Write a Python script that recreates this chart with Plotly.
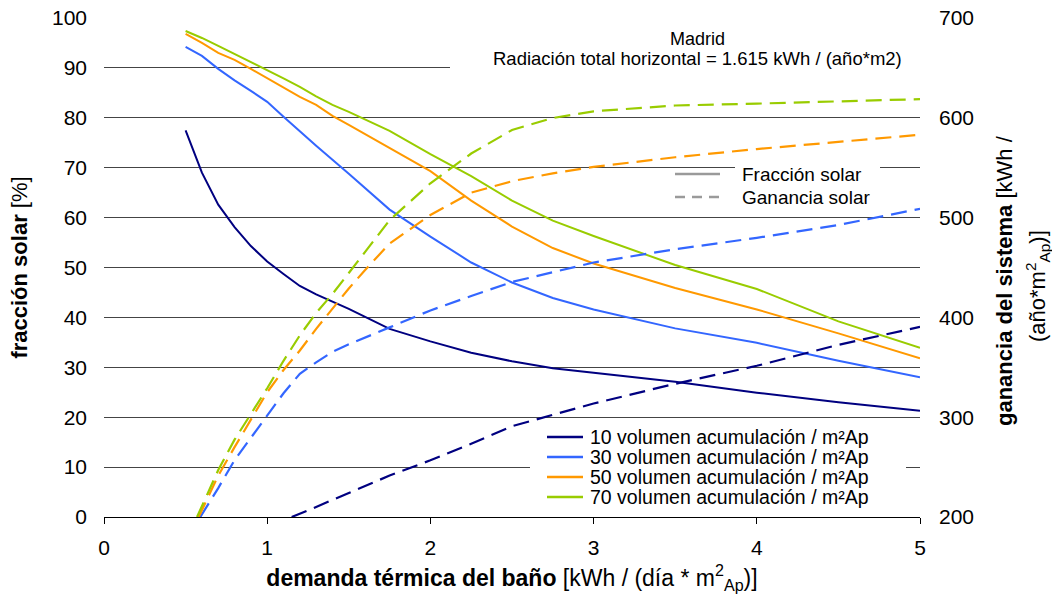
import plotly.graph_objects as go

# Demanda térmica del baño [kWh / (día * m2Ap)] for the solar fraction curves
demanda = [0.5, 0.6, 0.7, 0.8, 0.9, 1.0, 1.1, 1.2, 1.3, 1.4, 1.5, 1.75,
           2.0, 2.25, 2.5, 2.75, 3.0, 3.5, 4.0, 4.5, 5.0]

# Fracción solar [%] per storage volume (litres / m2Ap)
fraccion_10 = [77.5, 69.0, 62.6, 58.1, 54.3, 51.2, 48.7, 46.3, 44.6, 43.2, 41.7, 37.7,
               35.2, 32.9, 31.2, 29.8, 28.9, 27.1, 24.9, 23.0, 21.3]
fraccion_30 = [94.2, 92.4, 89.8, 87.5, 85.4, 83.2, 80.2, 77.2, 74.4, 71.6, 68.8, 61.6,
               56.2, 51.0, 47.0, 43.9, 41.6, 37.8, 34.9, 31.3, 28.0]
fraccion_50 = [96.8, 95.0, 93.0, 91.6, 89.8, 87.9, 86.0, 84.2, 82.6, 80.4, 78.6, 73.9,
               69.3, 63.4, 58.2, 53.9, 50.8, 45.9, 41.6, 36.8, 31.8]
fraccion_70 = [97.4, 96.0, 94.4, 92.8, 91.2, 89.6, 87.9, 86.2, 84.3, 82.6, 81.2, 77.4,
               72.7, 68.3, 63.4, 59.4, 56.3, 50.5, 45.7, 39.2, 33.9]

# Ganancia del sistema [kWh / (año*m2Ap)]; each curve enters the axis range at 200
demanda_g10 = [1.15, 1.25, 1.5, 1.75, 2.0, 2.25, 2.5, 2.75, 3.0, 3.5, 4.0, 4.5, 5.0]
ganancia_10 = [200, 206.6, 224.1, 241.5, 256.8, 273.4, 291.0, 302.5, 313.7, 333.5, 351.5, 372.5, 390.5]

demanda_g30 = [0.59, 0.7, 0.8, 0.9, 1.0, 1.1, 1.2, 1.3, 1.4, 1.5, 1.75,
               2.0, 2.25, 2.5, 2.75, 3.0, 3.5, 4.0, 4.5, 5.0]
ganancia_30 = [200, 229, 257, 279, 301, 324, 343.5, 355, 365.5, 373, 390,
               407, 421.4, 435.5, 445.3, 455, 468.3, 479.7, 492.6, 508.8]

demanda_g50 = [0.58, 0.7, 0.8, 0.9, 1.0, 1.1, 1.2, 1.3, 1.4, 1.5, 1.6, 1.75,
               2.0, 2.25, 2.5, 2.75, 3.0, 3.5, 4.0, 4.5, 5.0]
ganancia_50 = [200, 241.5, 270, 297.5, 325, 347.3, 366.8, 388.5, 409, 429, 447.5, 474,
               502.6, 525, 536.5, 544.3, 550.8, 560.5, 568.7, 575.5, 583]

demanda_g70 = [0.57, 0.7, 0.8, 0.9, 1.0, 1.1, 1.2, 1.3, 1.4, 1.5, 1.75,
               2.0, 2.25, 2.5, 2.75, 3.0, 3.5, 4.0, 4.5, 5.0]
ganancia_70 = [200, 247, 277.5, 303, 329, 356.5, 382, 404.5, 423.5, 444.5, 497.4,
               534.4, 564.2, 587.8, 599.8, 606.5, 612.3, 614.2, 616.5, 618.7]

volumenes = ["10", "30", "50", "70"]
colores = ["#000080", "#3366FF", "#FF9900", "#99CC00"]
fracciones = [fraccion_10, fraccion_30, fraccion_50, fraccion_70]
ganancias = [(demanda_g10, ganancia_10), (demanda_g30, ganancia_30),
             (demanda_g50, ganancia_50), (demanda_g70, ganancia_70)]

FONT = "Liberation Sans, Arial, sans-serif"

# Figure geometry (pixels) used to place the free text and key
W, H = 1052, 601
L, R, T, B = 104, 132, 18, 84
PW, PH = W - L - R, H - T - B
X_MAX, Y_MAX = 5.0, 100.0


def px_x(p):
    return (p - L) / PW


def px_y(p):
    return (H - B - p) / PH


fig = go.Figure()

for vol, col, frac in zip(volumenes, colores, fracciones):
    fig.add_trace(go.Scatter(
        x=demanda, y=frac, mode="lines", yaxis="y",
        name=f"{vol} volumen acumulación / m²Ap",
        line=dict(color=col, width=2), showlegend=False,
        hovertemplate="%{x}: %{y:.1f} %<extra></extra>"))

for vol, col, (xg, gan) in zip(volumenes, colores, ganancias):
    fig.add_trace(go.Scatter(
        x=xg, y=gan, mode="lines", yaxis="y2",
        name=f"Ganancia {vol}",
        line=dict(color=col, width=2.2, dash="16px,8px"), showlegend=False,
        hovertemplate="%{x}: %{y:.0f}<extra></extra>"))

shapes = []
# white panels behind the text boxes, between the gridlines and the curves
for x0, x1, y0, y1 in [(450, 925, 26, 94), (735, 880, 160, 206), (530, 906, 428, 510)]:
    shapes.append(dict(type="rect", xref="x", yref="y", layer="between",
                       x0=px_x(x0) * X_MAX, x1=px_x(x1) * X_MAX,
                       y0=px_y(y1) * Y_MAX, y1=px_y(y0) * Y_MAX,
                       fillcolor="white", line=dict(width=0)))

annotations = []
# key for storage volumes
for i, (vol, col) in enumerate(zip(volumenes, colores)):
    yk = 437 + 20 * i
    shapes.append(dict(type="line", xref="paper", yref="paper",
                       x0=px_x(547), x1=px_x(583), y0=px_y(yk), y1=px_y(yk),
                       line=dict(color=col, width=2.5)))
    annotations.append(dict(xref="paper", yref="paper", x=px_x(588), y=px_y(yk),
                            xanchor="left", yanchor="middle", showarrow=False,
                            text=f"{vol} volumen acumulación / m²Ap",
                            font=dict(family=FONT, size=19.5, color="black")))

# key for line styles
for yk, dash, label in [(174, "solid", "Fracción solar"), (197, "10px,7px", "Ganancia solar")]:
    shapes.append(dict(type="line", xref="paper", yref="paper",
                       x0=px_x(675), x1=px_x(720), y0=px_y(yk), y1=px_y(yk),
                       line=dict(color="#9a9a9a", width=2.5, dash=dash)))
    annotations.append(dict(xref="paper", yref="paper", x=px_x(740), y=px_y(yk),
                            xanchor="left", yanchor="middle", showarrow=False,
                            text=label, font=dict(family=FONT, size=19, color="black")))

# location heading
annotations.append(dict(xref="paper", yref="paper", x=px_x(697), y=px_y(39),
                        xanchor="center", yanchor="middle", showarrow=False,
                        text="Madrid", font=dict(family=FONT, size=18, color="black")))
annotations.append(dict(xref="paper", yref="paper", x=px_x(697), y=px_y(59),
                        xanchor="center", yanchor="middle", showarrow=False,
                        text="Radiación total horizontal = 1.615 kWh / (año*m2)",
                        font=dict(family=FONT, size=18.5, color="black")))

# right axis title (two lines)
annotations.append(dict(xref="paper", yref="paper", x=px_x(1004), y=px_y(281),
                        xanchor="center", yanchor="middle", showarrow=False, textangle=-90,
                        text="<b>ganancia del sistema</b> [kWh /",
                        font=dict(family=FONT, size=22, color="black")))
annotations.append(dict(xref="paper", yref="paper", x=px_x(1037), y=px_y(286),
                        xanchor="center", yanchor="middle", showarrow=False, textangle=-90,
                        text="(año*m<sup>2</sup><sub>Ap</sub>)]",
                        font=dict(family=FONT, size=22, color="black")))

tickfont = dict(family=FONT, size=21, color="black")

fig.update_layout(
    width=W, height=H,
    margin=dict(l=L, r=R, t=T, b=B, autoexpand=False),
    paper_bgcolor="white", plot_bgcolor="white",
    showlegend=False,
    font=dict(family=FONT, color="black"),
    xaxis=dict(
        range=[0, X_MAX], tickvals=[0, 1, 2, 3, 4, 5], showgrid=False, zeroline=False,
        showline=True, linecolor="black", linewidth=1,
        ticks="outside", ticklen=6, tickcolor="black", tickwidth=1,
        ticklabelstandoff=6, tickfont=tickfont, automargin=False,
        title=dict(text="<b>demanda térmica del baño</b> [kWh / (día * m<sup>2</sup><sub>Ap</sub>)]",
                   font=dict(family=FONT, size=23, color="black"), standoff=11),
    ),
    yaxis=dict(
        range=[0, Y_MAX], tickvals=list(range(0, 101, 10)), showgrid=True,
        gridcolor="#444444", gridwidth=1, zeroline=False, showline=False,
        ticks="", ticklabelstandoff=16, tickfont=tickfont, automargin=False,
        title=dict(text="<b>fracción solar</b> [%]",
                   font=dict(family=FONT, size=22, color="black"), standoff=18),
    ),
    yaxis2=dict(
        range=[200, 700], tickvals=list(range(200, 701, 100)), overlaying="y", side="right",
        showgrid=False, zeroline=False, showline=False, ticks="",
        ticklabelstandoff=18, tickfont=tickfont, automargin=False,
    ),
    shapes=shapes,
    annotations=annotations,
)

fig.write_html("out.html")
